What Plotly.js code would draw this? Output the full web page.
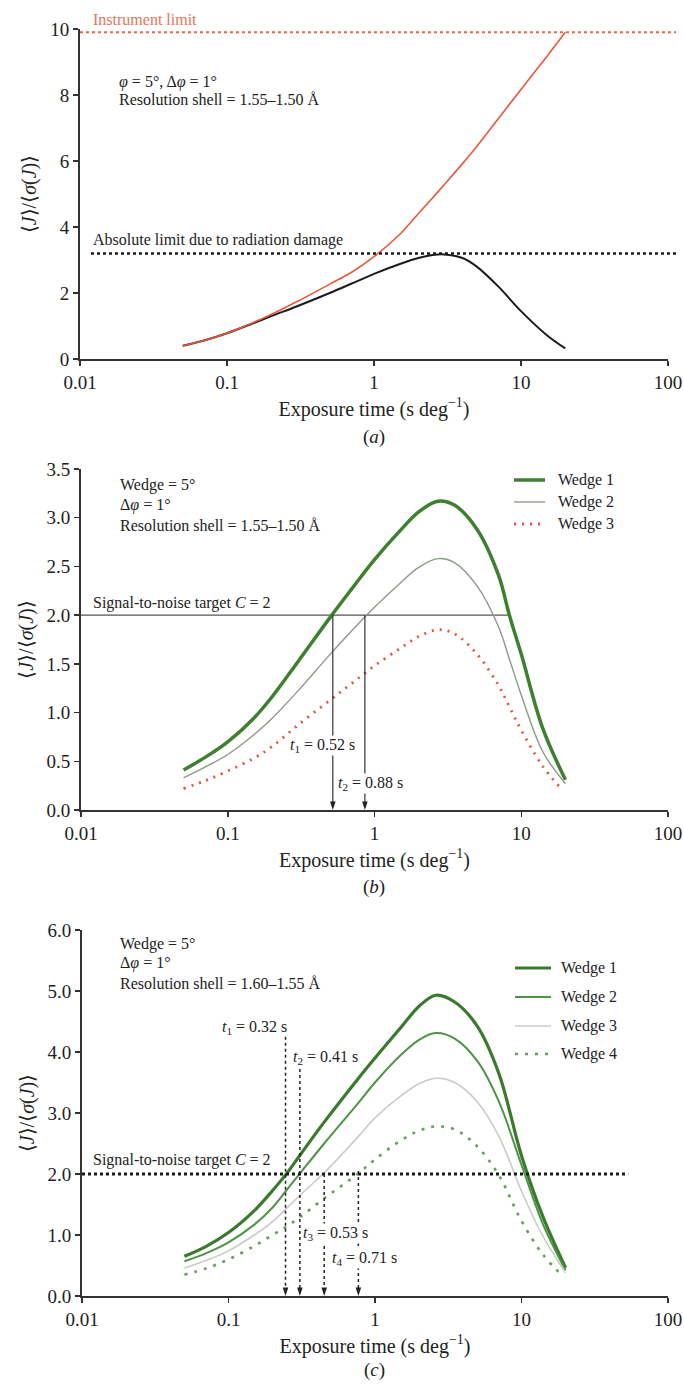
<!DOCTYPE html>
<html>
<head>
<meta charset="utf-8">
<script src="https://cdn.plot.ly/plotly-3.0.1.min.js"></script>
<style>html,body{margin:0;padding:0;background:#fff;}#chart{width:684px;height:1384px;}</style>
</head>
<body>
<div id="chart"></div>
<script>
// ---------------- DATA ----------------
// Axis ticks
const xTickVals = [0.01, 0.1, 1, 10, 100];
const xTickText = ['0.01', '0.1', '1', '10', '100'];
const yTicksA = [0, 2, 4, 6, 8, 10];
const yTicksB = [0, 0.5, 1, 1.5, 2, 2.5, 3, 3.5];
const yTicksC = [0, 1, 2, 3, 4, 5, 6];

// Panel (a): exposure time vs <J>/<sigma(J)>
const timeA = [0.05, 0.07, 0.1, 0.15, 0.2, 0.3, 0.5, 0.7, 1, 1.5, 2, 2.5, 3, 4, 5, 7, 10, 15, 20];
const snrNoDamageA = [0.40, 0.56, 0.78, 1.10, 1.35, 1.74, 2.27, 2.62, 3.10, 3.78, 4.40, 4.88, 5.28, 5.92, 6.44, 7.28, 8.17, 9.17, 9.90];
const snrDamageA   = [0.40, 0.56, 0.78, 1.08, 1.30, 1.60, 2.00, 2.28, 2.58, 2.88, 3.06, 3.15, 3.17, 3.06, 2.80, 2.20, 1.45, 0.72, 0.32];
const instrumentLimitA = 9.9;
const damageLimitA = 3.2;

// Panel (b)
const timeB = [0.05, 0.07, 0.1, 0.15, 0.2, 0.3, 0.5, 0.7, 1, 1.5, 2, 2.7, 3.5, 5, 7, 8.3, 10, 14, 20];
const wedge1B = [0.41, 0.54, 0.70, 0.94, 1.16, 1.52, 1.98, 2.27, 2.57, 2.87, 3.06, 3.17, 3.13, 2.88, 2.41, 2.00, 1.60, 0.84, 0.31];
const wedge2B = [0.33, 0.44, 0.57, 0.77, 0.94, 1.22, 1.60, 1.84, 2.08, 2.33, 2.49, 2.58, 2.54, 2.30, 1.88, 1.55, 1.18, 0.60, 0.27];
const timeB3 = [0.05, 0.07, 0.1, 0.15, 0.2, 0.3, 0.5, 0.7, 1, 1.5, 2, 2.7, 3.5, 5, 7, 8.3, 10, 14, 18.7];
const wedge3B = [0.22, 0.30, 0.40, 0.53, 0.65, 0.87, 1.13, 1.30, 1.48, 1.66, 1.78, 1.85, 1.81, 1.60, 1.28, 1.06, 0.82, 0.45, 0.22];
const targetB = 2;
const targetEndB = 8.2;
const arrowTimesB = [0.52, 0.86];
const arrowTopsB = [2, 2];
const arrowLabelsB = ['<i>t</i><sub>1</sub> = 0.52 s', '<i>t</i><sub>2</sub> = 0.88 s'];

// Panel (c)
const timeC = [0.05, 0.07, 0.1, 0.15, 0.2, 0.25, 0.31, 0.45, 0.76, 1, 1.5, 2, 2.6, 3.5, 5, 7, 10, 14, 20];
const wedge1C = [0.65, 0.81, 1.04, 1.40, 1.73, 2.01, 2.32, 2.85, 3.55, 3.90, 4.40, 4.75, 4.93, 4.82, 4.42, 3.65, 2.30, 1.30, 0.46];
const wedge2C = [0.57, 0.70, 0.88, 1.17, 1.45, 1.74, 2.02, 2.50, 3.15, 3.50, 3.95, 4.20, 4.31, 4.22, 3.85, 3.19, 2.15, 1.18, 0.42];
const wedge3C = [0.46, 0.58, 0.74, 1.00, 1.22, 1.44, 1.66, 2.02, 2.60, 2.92, 3.28, 3.48, 3.57, 3.50, 3.18, 2.62, 1.72, 0.98, 0.38];
const timeC4 = [0.05, 0.07, 0.1, 0.15, 0.2, 0.25, 0.31, 0.45, 0.76, 1, 1.5, 2, 2.6, 3.5, 5, 7, 10, 14, 19];
const wedge4C = [0.35, 0.45, 0.60, 0.82, 1.00, 1.14, 1.30, 1.60, 2.00, 2.24, 2.55, 2.71, 2.78, 2.73, 2.45, 1.98, 1.23, 0.68, 0.33];
const targetC = 2;
const targetEndC = 53.5;
const arrowTimesC = [0.245, 0.307, 0.45, 0.77];
const arrowTopsC = [4.25, 3.72, 2, 2.05];
const arrowLabelsC = ['<i>t</i><sub>1</sub> = 0.32 s', '<i>t</i><sub>2</sub> = 0.41 s', '<i>t</i><sub>3</sub> = 0.53 s', '<i>t</i><sub>4</sub> = 0.71 s'];

// ---------------- LAYOUT HELPERS ----------------
const W = 684, H = 1384;
const px = v => v / W;
const py = v => 1 - v / H;
const SERIF = 'Liberation Serif, Times New Roman, serif';
const INK = '#222';
const yTitle = '⟨<i>J</i>⟩/⟨<i>σ</i>(<i>J</i>)⟩';
const xTitle = 'Exposure time (s deg<sup>−1</sup>)';

function xAxis(left, anchor) {
  return {
    type: 'log', range: [-2, 2], domain: [px(left), px(668)], anchor: anchor,
    tickvals: xTickVals, ticktext: xTickText, ticks: 'outside', ticklen: 5, tickwidth: 1.5, tickcolor: '#333',
    showline: true, linecolor: '#333', linewidth: 2, showgrid: false, zeroline: false,
    tickfont: {family: SERIF, size: 19, color: INK}, automargin: false, fixedrange: true,
    title: {text: xTitle, standoff: 10, font: {family: SERIF, size: 20, color: INK}}
  };
}
function yAxis(top, bottom, anchor, range, ticks, fmt, standoff) {
  return {
    range: range, domain: [py(bottom), py(top)], anchor: anchor,
    tickvals: ticks, tickformat: fmt, ticks: 'outside', ticklen: 5, tickwidth: 1.5, tickcolor: '#333',
    showline: true, linecolor: '#333', linewidth: 2, showgrid: false, zeroline: false,
    tickfont: {family: SERIF, size: 19, color: INK}, automargin: false, fixedrange: true,
    title: {text: yTitle, standoff: standoff, font: {family: SERIF, size: 20, color: INK}}
  };
}

const traces = [];
function line(x, y, xa, ya, color, width, dash, shape) {
  traces.push({x: x, y: y, xaxis: xa, yaxis: ya, mode: 'lines', hoverinfo: 'skip',
    line: {color: color, width: width, dash: dash || 'solid', shape: shape || 'spline', smoothing: 1}});
}
function arrowLine(t, top, xa, ya, width, dash) {
  traces.push({x: [t, t], y: [top, 0], xaxis: xa, yaxis: ya, mode: 'lines+markers', hoverinfo: 'skip', cliponaxis: false,
    line: {color: '#222', width: width, dash: dash},
    marker: {symbol: 'arrow', angleref: 'previous', size: 9, color: '#222', line: {width: 0}}});
}

// Panel (a)
line(timeA, snrDamageA, 'x', 'y', '#1c1c1c', 2, 'solid');
line(timeA, snrNoDamageA, 'x', 'y', '#e6583c', 1.6, 'solid');

// Panel (b)
line([0.01, targetEndB], [targetB, targetB], 'x2', 'y2', '#555', 1.4, 'solid', 'linear');
line(timeB, wedge1B, 'x2', 'y2', '#3e7f30', 3.5);
line(timeB, wedge2B, 'x2', 'y2', '#8d9a88', 1.4);
line(timeB3, wedge3B, 'x2', 'y2', '#e2553f', 2.8, '2px,6px');
arrowTimesB.forEach((t, i) => arrowLine(t, arrowTopsB[i], 'x2', 'y2', 1.1, 'solid'));

// Panel (c)
line(timeC, wedge1C, 'x3', 'y3', '#3b7a2e', 3.2);
line(timeC, wedge2C, 'x3', 'y3', '#4f9446', 2);
line(timeC, wedge3C, 'x3', 'y3', '#c9ccc6', 1.6);
line(timeC4, wedge4C, 'x3', 'y3', '#6b9c62', 2.6, '3px,7px');
line([0.01, targetEndC], [targetC, targetC], 'x3', 'y3', '#1a1a1a', 3, 'dot', 'linear');
arrowTimesC.forEach((t, i) => arrowLine(t, arrowTopsC[i], 'x3', 'y3', 1.5, 'dot'));

// ---------------- ANNOTATIONS ----------------
const ann = [];
function txt(text, x, y, opts) {
  const o = Object.assign({size: 16, color: INK, xanchor: 'left', angle: 0, bg: null}, opts || {});
  const a = {text: text, xref: 'paper', yref: 'paper', x: px(x), y: py(y), xanchor: o.xanchor, yanchor: 'middle',
    showarrow: false, textangle: o.angle, font: {family: SERIF, size: o.size, color: o.color}};
  if (o.bg) { a.bgcolor = o.bg; a.borderpad = 0; }
  ann.push(a);
}

// (a)
txt('Instrument limit', 91, 19, {color: '#e5765a'});
txt('<i>φ</i> = 5°, Δ<i>φ</i> = 1°', 117, 82);
txt('Resolution shell = 1.55–1.50 Å', 117, 100);
txt('Absolute limit due to radiation damage', 91, 240);
txt('(<i>a</i>)', 374, 437, {size: 19, xanchor: 'center'});

// (b)
txt('Wedge = 5°', 118, 485);
txt('Δ<i>φ</i> = 1°', 118, 505);
txt('Resolution shell = 1.55–1.50 Å', 118, 525);
txt('Signal-to-noise target <i>C</i> = 2', 91, 603);
txt(arrowLabelsB[0], 322, 745, {xanchor: 'center', bg: 'white'});
txt(arrowLabelsB[1], 370, 783, {xanchor: 'center', bg: 'white'});
txt('(<i>b</i>)', 374, 887, {size: 19, xanchor: 'center'});
const legB = [['Wedge 1', '#3e7f30', 3.5, 'solid'], ['Wedge 2', '#8d9a88', 1.4, 'solid'], ['Wedge 3', '#e2553f', 2.8, '2px,6px']];
const legBY = [480, 502, 524];

// (c)
txt('Wedge = 5°', 118, 944);
txt('Δ<i>φ</i> = 1°', 118, 963);
txt('Resolution shell = 1.60–1.55 Å', 118, 983);
txt('Signal-to-noise target <i>C</i> = 2', 91, 1160);
txt(arrowLabelsC[0], 254, 1027, {xanchor: 'center'});
txt(arrowLabelsC[1], 325, 1057, {xanchor: 'center'});
txt(arrowLabelsC[2], 335, 1233, {xanchor: 'center', bg: 'white'});
txt(arrowLabelsC[3], 365, 1258, {xanchor: 'center', bg: 'white'});
txt('(<i>c</i>)', 374, 1370, {size: 19, xanchor: 'center'});
const legC = [['Wedge 1', '#3b7a2e', 3.2, 'solid'], ['Wedge 2', '#4f9446', 2, 'solid'], ['Wedge 3', '#c9ccc6', 1.6, 'solid'], ['Wedge 4', '#6b9c62', 2.6, '3px,7px']];
const legCY = [968, 997, 1026, 1054];

// ---------------- SHAPES ----------------
const shapes = [
  {type: 'line', xref: 'paper', yref: 'y', x0: px(80), x1: px(676), y0: instrumentLimitA, y1: instrumentLimitA,
   line: {color: '#e8664a', width: 2, dash: 'dot'}},
  {type: 'line', xref: 'paper', yref: 'y', x0: px(91), x1: px(676), y0: damageLimitA, y1: damageLimitA,
   line: {color: '#1a1a1a', width: 2.5, dash: 'dot'}}
];
legB.forEach((l, i) => {
  shapes.push({type: 'line', xref: 'paper', yref: 'paper', x0: px(514), x1: px(545), y0: py(legBY[i]), y1: py(legBY[i]),
    line: {color: l[1], width: l[2], dash: l[3]}});
  txt(l[0], 556, legBY[i]);
});
legC.forEach((l, i) => {
  shapes.push({type: 'line', xref: 'paper', yref: 'paper', x0: px(515), x1: px(551), y0: py(legCY[i]), y1: py(legCY[i]),
    line: {color: l[1], width: l[2], dash: l[3]}});
  txt(l[0], 559, legCY[i]);
});

const layout = {
  width: W, height: H, margin: {l: 0, r: 0, t: 0, b: 0},
  paper_bgcolor: '#fff', plot_bgcolor: '#fff', showlegend: false,
  font: {family: SERIF, color: INK},
  xaxis: xAxis(80, 'y'), yaxis: yAxis(29, 359, 'x', [0, 10], yTicksA, 'd', 8),
  xaxis2: xAxis(81, 'y2'), yaxis2: yAxis(469, 810, 'x2', [0, 3.5], yTicksB, '.1f', 7),
  xaxis3: xAxis(82, 'y3'), yaxis3: yAxis(930, 1296, 'x3', [0, 6], yTicksC, '.1f', 7),
  annotations: ann, shapes: shapes
};

Plotly.newPlot('chart', traces, layout, {staticPlot: true, displayModeBar: false});
</script>
</body>
</html>
